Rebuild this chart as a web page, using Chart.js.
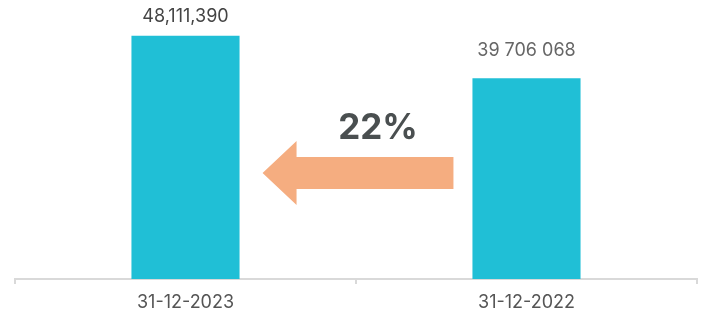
<!DOCTYPE html>
<html>
<head>
<meta charset="utf-8">
<script src="https://cdn.jsdelivr.net/npm/chart.js@4"></script>
<style>
  html, body { margin: 0; padding: 0; background: #fff; }
  #wrap { width: 703px; height: 322px; position: relative; }
</style>
</head>
<body>
<div id="wrap"><canvas id="chart"></canvas></div>
<script>
// data
const categories = ['31-12-2023', '31-12-2022'];
const values = [48111390, 39706068];
const valueLabels = ['48,111,390', '39 706 068'];
const changeLabel = '22%';

const FONT = 'Inter, "Open Sans", sans-serif';

// value labels above bars + arrow showing growth
const overlayPlugin = {
    id: 'overlay',
    afterDatasetsDraw(chart) {
        const ctx = chart.ctx;
        const meta = chart.getDatasetMeta(0);
        const gaps = [19, 28];

        ctx.save();
        ctx.font = '18px ' + FONT;
        ctx.textAlign = 'center';
        ctx.textBaseline = 'middle';
        meta.data.forEach((bar, i) => {
            ctx.fillStyle = i === 0 ? '#444' : '#666';
            ctx.fillText(valueLabels[i], bar.x, bar.y - gaps[i]);
        });

        // arrow from right bar to left bar
        const b0 = meta.data[0], b1 = meta.data[1];
        const tipX = b0.x + b0.width / 2 + 23;
        const tailX = b1.x - b1.width / 2 - 19;
        const midY = 173;
        const headLen = 34;
        ctx.fillStyle = '#f5ad80';
        ctx.beginPath();
        ctx.moveTo(tipX, midY);
        ctx.lineTo(tipX + headLen, midY - 32);
        ctx.lineTo(tipX + headLen, midY - 16);
        ctx.lineTo(tailX, midY - 16);
        ctx.lineTo(tailX, midY + 16);
        ctx.lineTo(tipX + headLen, midY + 16);
        ctx.lineTo(tipX + headLen, midY + 32);
        ctx.closePath();
        ctx.fill();

        ctx.fillStyle = '#4a4f50';
        ctx.font = 'bold 35px ' + FONT;
        ctx.fillText(changeLabel, (tipX + tailX) / 2 + 20, 128);
        ctx.restore();
    }
};

new Chart(document.getElementById('chart'), {
    type: 'bar',
    data: {
        labels: categories,
        datasets: [{
            data: values,
            backgroundColor: '#20bfd6',
            barPercentage: 0.317,
            categoryPercentage: 1
        }]
    },
    options: {
        responsive: true,
        maintainAspectRatio: false,
        animation: false,
        layout: { padding: { left: 15, right: 6, top: 0, bottom: 0 } },
        plugins: {
            legend: { display: false },
            tooltip: { enabled: false }
        },
        scales: {
            x: {
                grid: {
                    offset: true,
                    drawOnChartArea: false,
                    drawTicks: true,
                    tickLength: 5,
                    color: '#d9d9d9',
                    lineWidth: 2
                },
                border: { color: '#d9d9d9', width: 2 },
                ticks: {
                    color: '#555',
                    font: { family: FONT, size: 18, lineHeight: 1 },
                    padding: 10
                }
            },
            y: {
                display: false,
                min: 0,
                max: 55200000
            }
        }
    },
    plugins: [overlayPlugin]
});
</script>
</body>
</html>
